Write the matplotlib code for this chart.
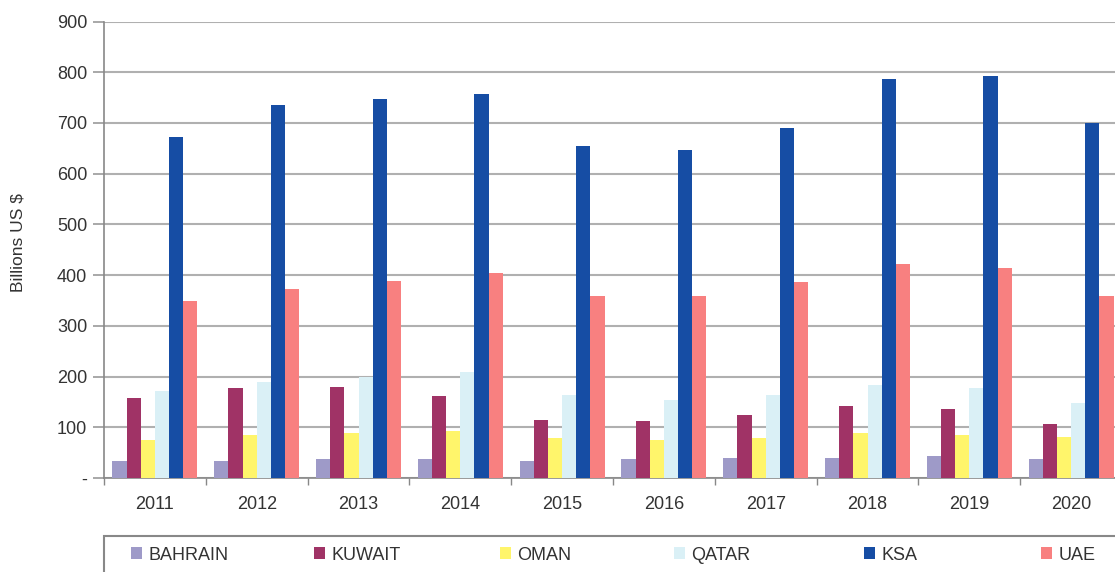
import numpy as np
import matplotlib
matplotlib.use("Agg")
import matplotlib.pyplot as plt
from matplotlib.ticker import FixedLocator, FuncFormatter
from matplotlib.patches import Rectangle

plt.rcParams['font.family'] = ['Liberation Sans', 'DejaVu Sans']

years = ['2011', '2012', '2013', '2014', '2015', '2016', '2017', '2018', '2019', '2020']

bahrain = [33, 33, 37, 37, 33, 37, 39, 39, 43, 37]
kuwait = [157, 177, 179, 161, 114, 112, 124, 142, 136, 106]
oman = [75, 85, 89, 92, 79, 75, 79, 89, 85, 81]
qatar = [171, 189, 199, 209, 163, 153, 163, 183, 177, 148]
ksa = [673, 736, 748, 758, 654, 646, 691, 787, 793, 699]
uae = [348, 372, 388, 404, 358, 358, 386, 421, 415, 358]

names = ['BAHRAIN', 'KUWAIT', 'OMAN', 'QATAR', 'KSA', 'UAE']
series = [bahrain, kuwait, oman, qatar, ksa, uae]
colors = ['#9E9AC8', '#A03366', '#FFF56B', '#DAF0F6', '#164DA4', '#F88080']

W, H = 1115, 572
fig = plt.figure(figsize=(W / 100, H / 100), dpi=100)
ax = fig.add_axes([104 / W, 94 / H, 1018 / W, 456.5 / H])

x = np.arange(len(years))
bw = 1 / 7.2
handles = []
for i, (nm, vals) in enumerate(zip(names, series)):
    b = ax.bar(x + (i - 2.5) * bw, vals, bw, color=colors[i], label=nm, zorder=3)
    handles.append(b)

ax.set_xlim(-0.5, len(years) - 0.5)
ax.set_ylim(0, 900)
ax.set_yticks(np.arange(0, 901, 100))
ax.yaxis.set_major_formatter(FuncFormatter(lambda v, p: '-' if v == 0 else '%d' % v))
ax.grid(axis='y', color='#B0B0B0', linewidth=1.5, zorder=0)

ax.set_xticks(x)
ax.set_xticklabels(years)
ax.xaxis.set_minor_locator(FixedLocator(np.arange(-0.5, len(years), 1)))
ax.tick_params(axis='x', which='major', length=0, pad=13, labelsize=13, labelcolor='#333333')
ax.tick_params(axis='x', which='minor', length=5, color='#888888', width=1)
ax.tick_params(axis='y', length=8, color='#999999', width=1.2, pad=4, labelsize=13, labelcolor='#333333')

for s in ['top', 'right']:
    ax.spines[s].set_visible(False)
for s in ['left', 'bottom']:
    ax.spines[s].set_color('#888888')
    ax.spines[s].set_linewidth(1.2)

fig.text(18 / W, 1 - 243 / H, 'Billions US $', rotation=90, ha='center', va='center',
         fontsize=12.5, color='#333333')

# legend box, cut off at the right and bottom like the original
fig.patches.append(Rectangle((104 / W, -0.05), 1.1, 0.05 + 36 / H, transform=fig.transFigure,
                             fill=False, edgecolor='#888888', linewidth=1.5))
marker_x = [131, 314, 500, 674, 864, 1041]
for h, nm, mx in zip(handles, names, marker_x):
    lg = fig.legend(handles=[h], labels=[nm], loc='center left',
                    bbox_to_anchor=(mx / W, 1 - 555 / H), frameon=False,
                    handlelength=0.6, handleheight=0.6, handletextpad=0.35,
                    fontsize=13, borderaxespad=0, borderpad=0, labelcolor='#333333')

fig.savefig('out.png', dpi=100)
